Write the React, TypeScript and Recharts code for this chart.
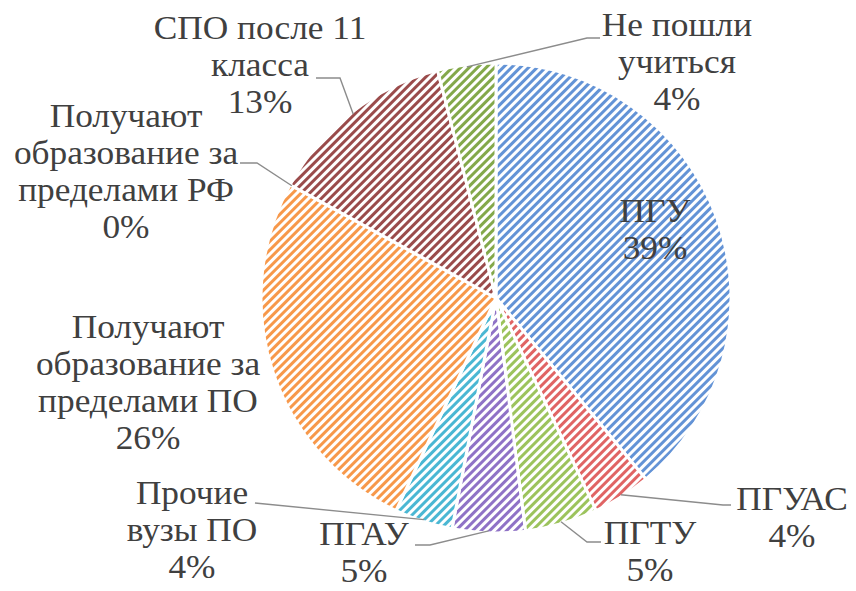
import React from "react";
import { PieChart, Pie, Cell, PieLabelRenderProps } from "recharts";

// Categories (clockwise from 12 o'clock) and their shares, %
const CATEGORIES = [
  "ПГУ",
  "ПГУАС",
  "ПГТУ",
  "ПГАУ",
  "Прочие вузы ПО",
  "Получают образование за пределами ПО",
  "Получают образование за пределами РФ",
  "СПО после 11 класса",
  "Не пошли учиться",
];
const VALUES = [39, 4, 5, 5, 4, 26, 0, 13, 4];

// How each category name is wrapped in its label
const LABEL_LINES = [
  ["ПГУ"],
  ["ПГУАС"],
  ["ПГТУ"],
  ["ПГАУ"],
  ["Прочие", "вузы ПО"],
  ["Получают", "образование за", "пределами ПО"],
  ["Получают", "образование за", "пределами РФ"],
  ["СПО после 11", "класса"],
  ["Не пошли", "учиться"],
];

const STRIPES = [
  "#6393D6", // blue
  "#E06464", // red
  "#9CC35C", // green
  "#8F72C6", // purple
  "#4AB7D3", // cyan
  "#F7984A", // orange
  "#4F81BD", // dark blue
  "#9A4B4B", // dark red
  "#83A84A", // olive green
];

// Label layout: text centre / first baseline and leader-line points, as offsets from the pie centre
const LABEL_LAYOUT: { dx: number; dy: number; leader: [number, number][] }[] = [
  { dx: 159, dy: -75, leader: [] },
  { dx: 296, dy: 213, leader: [[227, 207], [235, 207]] },
  { dx: 154, dy: 247, leader: [[91, 244], [105, 244]] },
  { dx: -132, dy: 248, leader: [[-66, 247], [-81, 247]] },
  { dx: -304, dy: 207, leader: [[-241, 205]] },
  { dx: -348, dy: 41, leader: [] },
  { dx: -370, dy: -170, leader: [[-239, -135], [-256, -135]] },
  { dx: -236, dy: -258, leader: [[-156, -220], [-180, -220]] },
  { dx: 181, dy: -261, leader: [[91, -260], [104, -260]] },
];

const chartData = CATEGORIES.map((name, i) => ({ name, value: VALUES[i] }));

const RADIAN = Math.PI / 180;
const LINE_H = 37;
const FONT_SIZE = 33;
const BOX_W = 300;
// distance from a line box top to its baseline (Liberation Serif metrics)
const BASELINE = (LINE_H - FONT_SIZE * 1.107) / 2 + FONT_SIZE * 0.891;

const renderLabel = (props: PieLabelRenderProps) => {
  const { cx, cy, midAngle, outerRadius, percent, index } = props as any;
  const layout = LABEL_LAYOUT[index];
  const lines = [...LABEL_LINES[index], `${Math.round(percent * 100)}%`];
  const tx = cx + layout.dx;
  const ty = cy + layout.dy;

  let leader = null;
  if (layout.leader.length) {
    const sx = cx + (outerRadius - 2) * Math.cos(-midAngle * RADIAN);
    const sy = cy + (outerRadius - 2) * Math.sin(-midAngle * RADIAN);
    const pts = [[sx, sy], ...layout.leader.map(([x, y]) => [cx + x, cy + y])];
    leader = (
      <polyline
        points={pts.map((p) => p.join(",")).join(" ")}
        fill="none"
        stroke="#8C8C8C"
        strokeWidth={1.4}
      />
    );
  }

  // label text as HTML so the serif font is honoured; slightly stretched like the source
  return (
    <g key={`label-${index}`}>
      {leader}
      <foreignObject
        x={tx - BOX_W / 2}
        y={ty - BASELINE}
        width={BOX_W}
        height={lines.length * LINE_H + 4}
      >
        <div
          style={{
            fontFamily: '"Liberation Serif", "Times New Roman", serif',
            fontSize: FONT_SIZE,
            lineHeight: `${LINE_H}px`,
            color: "#404040",
            textAlign: "center",
            whiteSpace: "nowrap",
            transform: "scaleX(1.07)",
          }}
        >
          {lines.map((l, i) => (
            <div key={i}>{l}</div>
          ))}
        </div>
      </foreignObject>
    </g>
  );
};

export default function App() {
  return (
    <div
      style={{
        position: "absolute",
        left: 0,
        top: 0,
        width: 856,
        height: 591,
        background: "#fff",
      }}
    >
      <svg width={0} height={0} style={{ position: "absolute" }}>
        <defs>
          {STRIPES.map((c, i) => (
            <pattern
              key={i}
              id={`stripe-${i}`}
              patternUnits="userSpaceOnUse"
              width={6}
              height={6}
              patternTransform="rotate(45)"
            >
              <rect width={6} height={6} fill="#FFFFFF" />
              <rect width={3} height={6} fill={c} />
            </pattern>
          ))}
        </defs>
      </svg>
      <PieChart
        width={856}
        height={591}
        margin={{ top: 0, right: 0, bottom: 0, left: 0 }}
      >
        <Pie
          data={chartData}
          dataKey="value"
          nameKey="name"
          cx={496}
          cy={298}
          outerRadius={235}
          startAngle={90}
          endAngle={-270}
          stroke="#FFFFFF"
          strokeWidth={3}
          labelLine={false}
          label={renderLabel}
          isAnimationActive={false}
        >
          {chartData.map((_, i) => (
            <Cell key={`cell-${i}`} fill={`url(#stripe-${i})`} />
          ))}
        </Pie>
      </PieChart>
    </div>
  );
}
